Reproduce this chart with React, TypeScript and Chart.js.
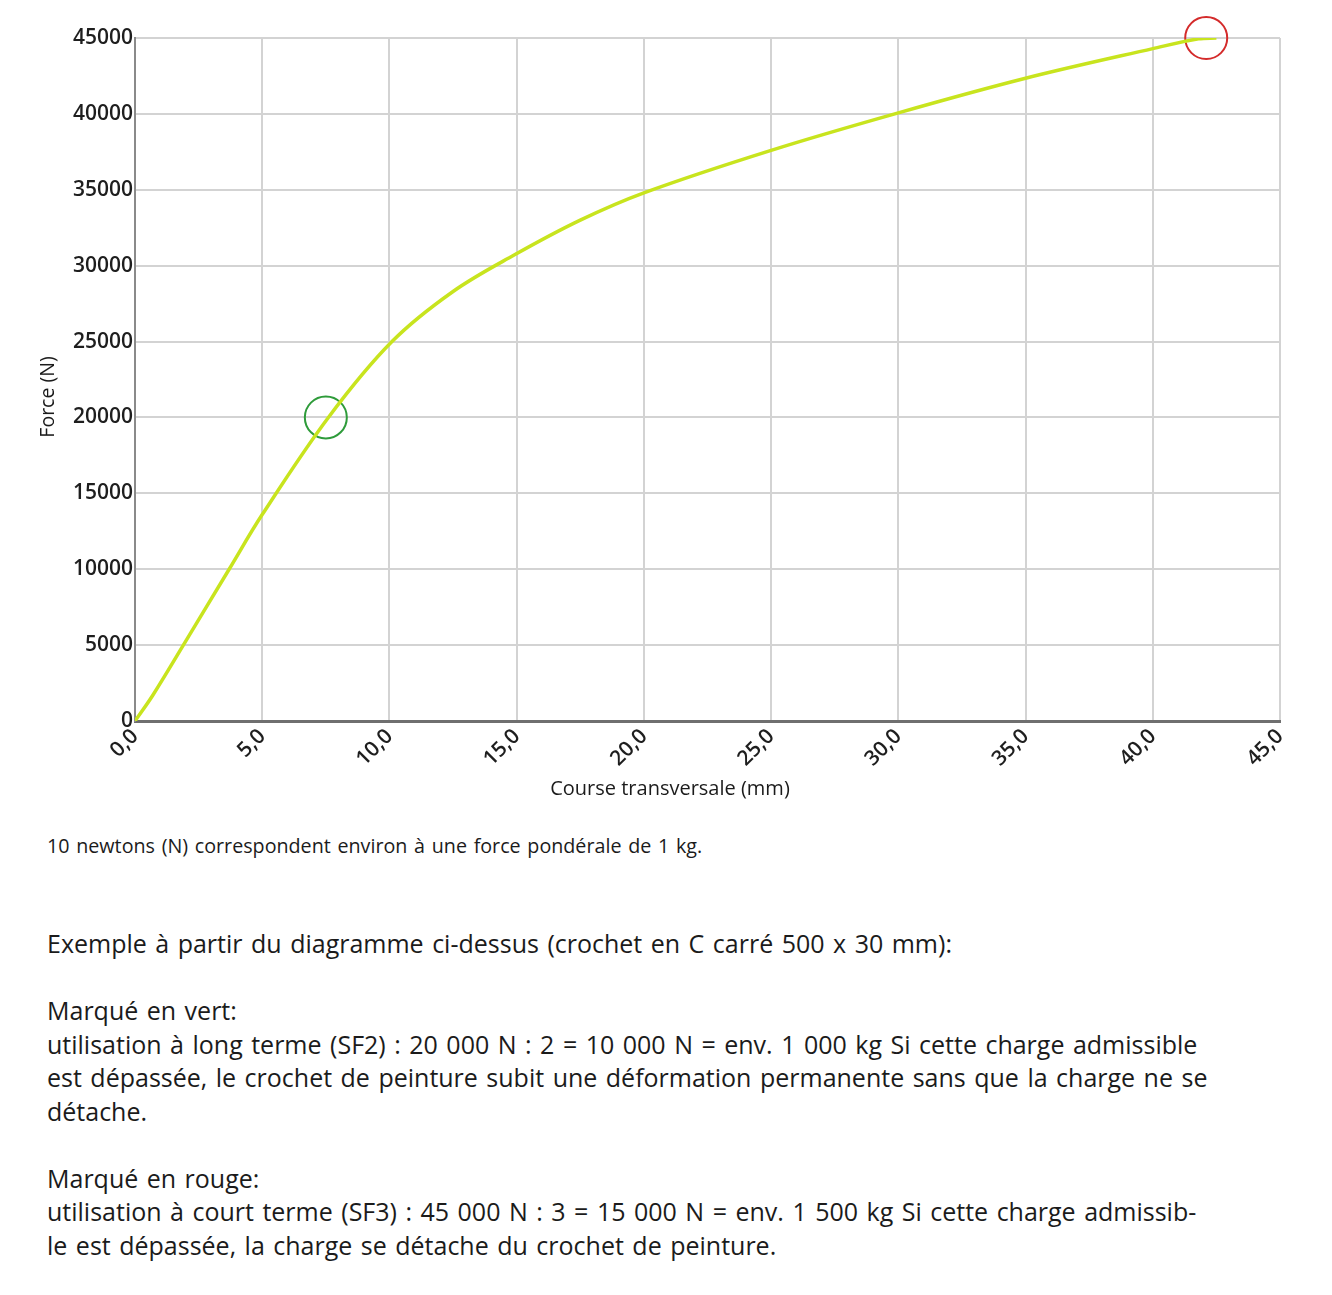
import React, { useEffect, useRef } from "react";
import { Chart, registerables } from "chart.js";

Chart.register(...registerables);

// Load–deflection curve of the square C-hook (500 x 30 mm)
const courseMm = [0, 0.7, 1.9, 3.7, 5.0, 7.6, 10.1, 12.5, 14.9, 17.5, 20.0, 25.0, 30.0, 35.0, 40.0, 41.8, 42.5];
const forceN = [0, 1700, 5000, 10000, 13600, 20000, 25000, 28300, 30700, 33000, 34800, 37600, 40070, 42350, 44300, 44950, 45000];

// Marked points: long-term use (SF2) and short-term use (SF3)
const sf2Point = [7.5, 20000];
const sf3Point = [42.1, 45000];

const xTickLabels = ["0,0", "5,0", "10,0", "15,0", "20,0", "25,0", "30,0", "35,0", "40,0", "45,0"];
const yTickLabels = ["0", "5000", "10000", "15000", "20000", "25000", "30000", "35000", "40000", "45000"];

const noteLine = "10 newtons (N) correspondent environ à une force pondérale de 1 kg.";
const exampleLines = [
  "Exemple à partir du diagramme ci-dessus (crochet en C carré 500 x 30 mm):",
  "",
  "Marqué en vert:",
  "utilisation à long terme (SF2) : 20 000 N : 2 = 10 000 N = env. 1 000 kg Si cette charge admissible",
  "est dépassée, le crochet de peinture subit une déformation permanente sans que la charge ne se",
  "détache.",
  "",
  "Marqué en rouge:",
  "utilisation à court terme (SF3) : 45 000 N : 3 = 15 000 N = env. 1 500 kg Si cette charge admissib-",
  "le est dépassée, la charge se détache du crochet de peinture.",
];

const tickFont = { family: "'Open Sans', sans-serif", size: 21, weight: "600" as const };
const bodyFont = "'Open Sans', sans-serif";

export default function App() {
  const canvasRef = useRef<HTMLCanvasElement | null>(null);

  useEffect(() => {
    const canvas = canvasRef.current;
    if (!canvas) return;
    const chart = new Chart(canvas, {
      type: "line",
      data: {
        datasets: [
          {
            type: "line",
            data: courseMm.map((x, i) => ({ x, y: forceN[i] })),
            borderColor: "#c8e41e",
            borderWidth: 3.5,
            pointRadius: 0,
            tension: 0.35,
            fill: false,
          },
          {
            type: "scatter",
            data: [{ x: sf2Point[0], y: sf2Point[1] }],
            pointRadius: 21,
            pointBorderWidth: 2,
            pointBackgroundColor: "rgba(0,0,0,0)",
            pointBorderColor: "#2e9b3a",
            clip: false,
          },
          {
            type: "scatter",
            data: [{ x: sf3Point[0], y: sf3Point[1] }],
            pointRadius: 21,
            pointBorderWidth: 2,
            pointBackgroundColor: "rgba(0,0,0,0)",
            pointBorderColor: "#d42b2b",
            clip: false,
          },
        ],
      },
      options: {
        responsive: false,
        animation: false,
        layout: { padding: { top: 30, right: 44, left: 0, bottom: 0 } },
        plugins: { legend: { display: false }, tooltip: { enabled: false } },
        scales: {
          x: {
            type: "linear",
            min: 0,
            max: 45,
            ticks: {
              stepSize: 5,
              autoSkip: false,
              maxRotation: 45,
              minRotation: 45,
              padding: 3,
              color: "#1e1e1e",
              font: tickFont,
              callback: (v: any) => xTickLabels[Math.round(Number(v) / 5)] ?? "",
            },
            grid: { color: "#d3d3d3", lineWidth: 2, drawTicks: false },
            border: { color: "#6f6f6f", width: 3 },
            afterFit: (scale: any) => {
              scale.height = 97;
            },
          },
          y: {
            min: 0,
            max: 45000,
            ticks: {
              stepSize: 5000,
              padding: 2,
              color: "#1e1e1e",
              font: tickFont,
              callback: (v: any) => yTickLabels[Math.round(Number(v) / 5000)] ?? "",
            },
            grid: { color: "#d3d3d3", lineWidth: 2, drawTicks: false },
            border: { color: "#8a8a8a", width: 2 },
            afterFit: (scale: any) => {
              scale.width = 127;
            },
          },
        },
      },
    });
    return () => chart.destroy();
  }, []);

  return (
    <div style={{ position: "relative", width: 1316, height: 1270, color: "#1b1b1b" }}>
      <canvas ref={canvasRef} width={1316} height={810} style={{ display: "block" }} />
      <div
        style={{
          position: "absolute",
          left: 39 - 60,
          top: 389 - 12,
          width: 120,
          textAlign: "center",
          transform: "rotate(-90deg)",
          fontFamily: bodyFont,
          fontSize: 19.5,
          lineHeight: "24px",
        }}
      >
        Force (N)
      </div>
      <div
        style={{
          position: "absolute",
          left: 662 - 200,
          top: 780 - 12,
          width: 400,
          textAlign: "center",
          fontFamily: bodyFont,
          fontSize: 20,
          lineHeight: "24px",
        }}
      >
        Course transversale (mm)
      </div>
      <div
        style={{
          position: "absolute",
          left: 39,
          top: 838 - 12,
          whiteSpace: "nowrap",
          fontFamily: bodyFont,
          fontSize: 19.7,
          wordSpacing: 1.6,
          lineHeight: "24px",
        }}
      >
        {noteLine}
      </div>
      <div
        style={{
          position: "absolute",
          left: 39,
          top: 936 - 17,
          fontFamily: bodyFont,
          fontSize: 25,
          wordSpacing: 2,
          lineHeight: "33.5px",
          whiteSpace: "pre",
        }}
      >
        {exampleLines.map((line, i) => (
          <div key={i} style={{ height: 33.5 }}>
            {line}
          </div>
        ))}
      </div>
    </div>
  );
}
